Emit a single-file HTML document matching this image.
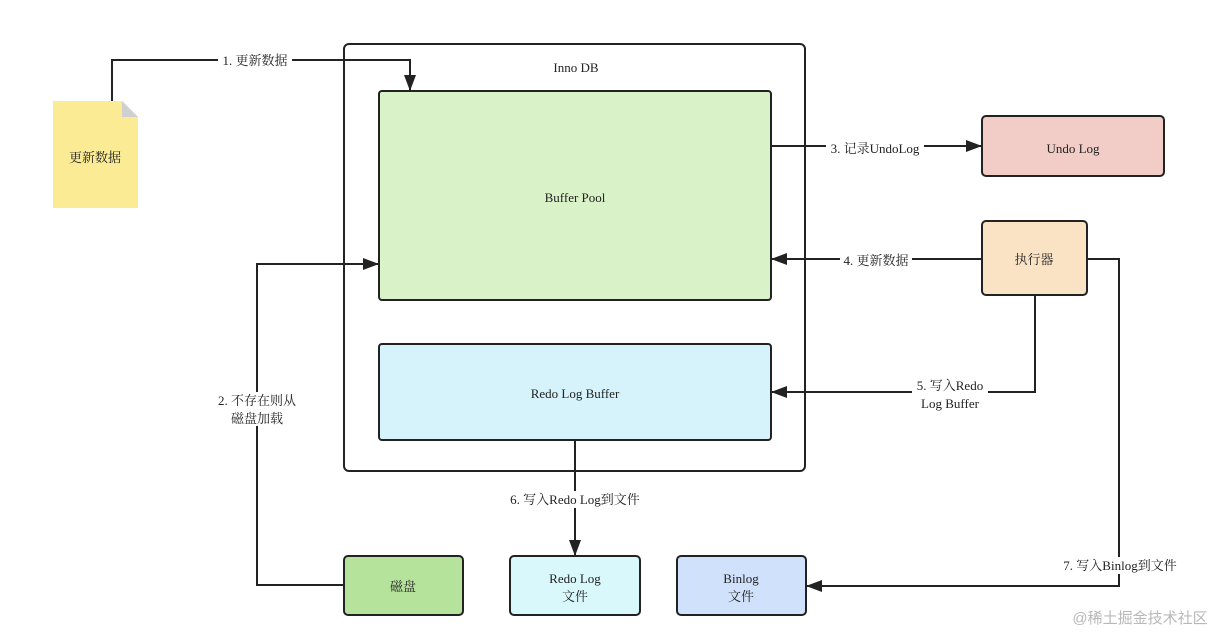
<!DOCTYPE html>
<html><head><meta charset="utf-8"><style>
html,body{margin:0;padding:0;background:#fff;}
svg{display:block;}
text{font-family:"Liberation Serif","Noto Serif CJK SC",serif;font-size:13px;fill:#222;}
</style></head><body>
<svg width="1226" height="636" viewBox="0 0 1226 636" xmlns="http://www.w3.org/2000/svg">
<defs>
<marker id="a" markerWidth="10" markerHeight="10" refX="9" refY="5" orient="auto" markerUnits="userSpaceOnUse"><path d="M0,0 L10,5 L0,10 z" fill="#222"/></marker>
<marker id="b" markerWidth="16" markerHeight="12" refX="15" refY="6" orient="auto" markerUnits="userSpaceOnUse"><path d="M0,0 L16,6 L0,12 z" fill="#222"/></marker>
</defs>
<!-- note -->
<path d="M53,101 H122 L138,117 V208 H53 Z" fill="#fbeb95"/>
<path d="M122,101 L138,117 H122 Z" fill="#cfcfcf"/>
<text x="95" y="162" text-anchor="middle">更新数据</text>
<!-- containers -->
<rect x="344" y="44" width="461" height="427" rx="5" fill="none" stroke="#222" stroke-width="2"/>
<text x="576" y="72" text-anchor="middle">Inno DB</text>
<rect x="379" y="91" width="392" height="209" rx="3" fill="#d9f2c8" stroke="#222" stroke-width="2"/>
<text x="575" y="202" text-anchor="middle">Buffer Pool</text>
<rect x="379" y="344" width="392" height="96" rx="3" fill="#d6f3fb" stroke="#222" stroke-width="2"/>
<text x="575" y="398" text-anchor="middle">Redo Log Buffer</text>
<rect x="982" y="116" width="182" height="60" rx="4" fill="#f2cdc8" stroke="#222" stroke-width="2"/>
<text x="1073" y="153" text-anchor="middle">Undo Log</text>
<rect x="982" y="221" width="105" height="74" rx="4" fill="#fae3c4" stroke="#222" stroke-width="2"/>
<text x="1034" y="264" text-anchor="middle">执行器</text>
<rect x="344" y="556" width="119" height="59" rx="4" fill="#b6e39c" stroke="#222" stroke-width="2"/>
<text x="403" y="591" text-anchor="middle">磁盘</text>
<rect x="510" y="556" width="130" height="59" rx="4" fill="#d8f8fc" stroke="#222" stroke-width="2"/>
<text x="575" y="583" text-anchor="middle">Redo Log</text>
<text x="575" y="601" text-anchor="middle">文件</text>
<rect x="677" y="556" width="129" height="59" rx="4" fill="#d0e1fb" stroke="#222" stroke-width="2"/>
<text x="741" y="583" text-anchor="middle">Binlog</text>
<text x="741" y="601" text-anchor="middle">文件</text>
<!-- connectors -->
<g fill="none" stroke="#222" stroke-width="2">
<path d="M112,101 V60 H410 V90" marker-end="url(#b)"/>
<path d="M771,146 H981" marker-end="url(#b)"/>
<path d="M982,259 H772" marker-end="url(#b)"/>
<path d="M1035,295 V392 H772" marker-end="url(#b)"/>
<path d="M1087,259 H1119 V586 H807" marker-end="url(#b)"/>
<path d="M344,585 H257 V264 H378" marker-end="url(#b)"/>
<path d="M575,440 V555" marker-end="url(#b)"/>
</g>
<!-- labels -->
<g>
<rect x="218" y="52" width="74" height="16" fill="#fff"/>
<text x="255" y="65" text-anchor="middle">1. 更新数据</text>
<rect x="826" y="140" width="98" height="16" fill="#fff"/>
<text x="875" y="153" text-anchor="middle">3. 记录UndoLog</text>
<rect x="840" y="252" width="72" height="16" fill="#fff"/>
<text x="876" y="265" text-anchor="middle">4. 更新数据</text>
<rect x="912" y="377" width="76" height="34" fill="#fff"/>
<text x="950" y="390" text-anchor="middle">5. 写入Redo</text>
<text x="950" y="408" text-anchor="middle">Log Buffer</text>
<rect x="214" y="392" width="86" height="34" fill="#fff"/>
<text x="257" y="405" text-anchor="middle">2. 不存在则从</text>
<text x="257" y="423" text-anchor="middle">磁盘加载</text>
<rect x="505" y="491" width="140" height="17" fill="#fff"/>
<text x="575" y="504" text-anchor="middle">6. 写入Redo Log到文件</text>
<rect x="1058" y="557" width="124" height="17" fill="#fff"/>
<text x="1120" y="570" text-anchor="middle">7. 写入Binlog到文件</text>
</g>
<text x="1140" y="623" text-anchor="middle" style="font-family:'Liberation Sans','Noto Sans CJK SC',sans-serif;font-size:15px;fill:#b8b8b8">@稀土掘金技术社区</text>
</svg>
</body></html>
